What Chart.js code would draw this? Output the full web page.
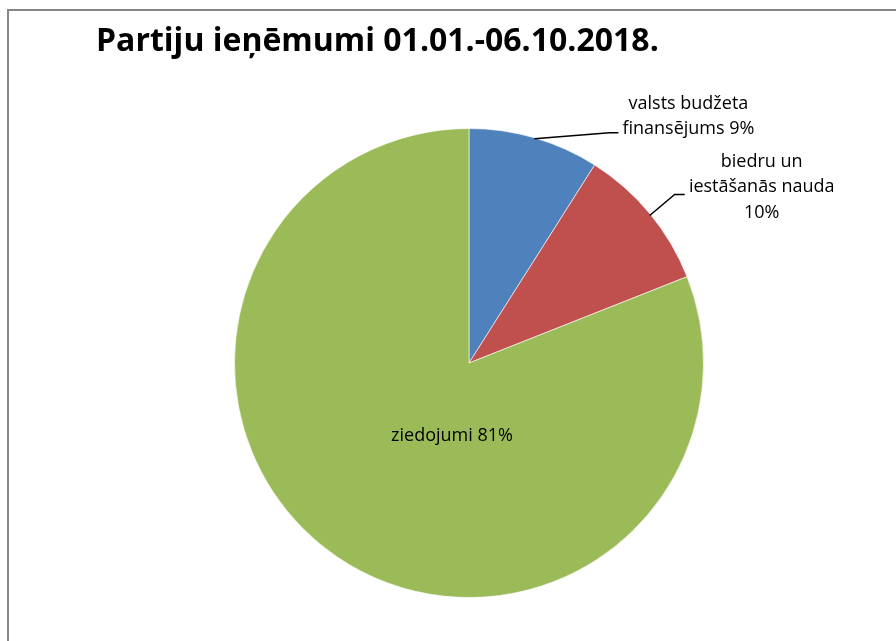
<!DOCTYPE html>
<html>
<head>
<meta charset="utf-8">
<script src="https://cdn.jsdelivr.net/npm/chart.js@4"></script>
<style>
  html, body { margin: 0; padding: 0; background: #fff; overflow: hidden; }
  #wrap { position: relative; width: 896px; height: 641px; }
  #frame { position: absolute; left: 7px; top: 9px; width: 1000px; height: 1000px; border: 2px solid #868686; box-sizing: border-box; }
  canvas { position: absolute; left: 0; top: 0; }
</style>
</head>
<body>
<div id="wrap">
  <div id="frame"></div>
  <canvas id="chart" width="896" height="641"></canvas>
</div>
<script>
const title = 'Partiju ieņēmumi 01.01.-06.10.2018.';
const labels = ['valsts budžeta finansējums', 'biedru un iestāšanās nauda', 'ziedojumi'];
const values = [9, 10, 81];
const colors = ['#4F81BD', '#C0504D', '#9BBB59'];

// how each label is written (line breaks)
const labelLines = [
  ['valsts budžeta', 'finansējums 9%'],
  ['biedru un', 'iestāšanās nauda', '10%'],
  ['ziedojumi 81%']
];
const labelFont = '18px "Open Sans", Lato, sans-serif';

const pieLabels = {
  id: 'pieLabels',
  afterDraw(chart) {
    const ctx = chart.ctx;
    const arcs = chart.getDatasetMeta(0).data;
    ctx.save();

    // title
    ctx.font = 'bold 32px "Open Sans", Lato, sans-serif';
    ctx.fillStyle = '#000';
    ctx.textAlign = 'left';
    ctx.textBaseline = 'alphabetic';
    ctx.fillText(title, 96, 51);

    ctx.font = labelFont;
    ctx.textAlign = 'center';
    ctx.textBaseline = 'middle';
    ctx.strokeStyle = '#000';
    ctx.lineWidth = 1.5;

    arcs.forEach((arc, i) => {
      const mid = (arc.startAngle + arc.endAngle) / 2;
      const ex = arc.x + Math.cos(mid) * arc.outerRadius;
      const ey = arc.y + Math.sin(mid) * arc.outerRadius;
      let tx, ty;
      if (i === 0) {
        ctx.beginPath();
        ctx.moveTo(ex, ey + 1);
        ctx.lineTo(ex + 75, ey - 5);
        ctx.lineTo(ex + 84, ey - 5);
        ctx.stroke();
        tx = ex + 154; ty = ey - 34;
      } else if (i === 1) {
        ctx.beginPath();
        ctx.moveTo(ex, ey + 2);
        ctx.lineTo(ex + 25, ey - 19);
        ctx.lineTo(ex + 35, ey - 19);
        ctx.stroke();
        tx = ex + 112; ty = ey - 52;
      } else {
        tx = arc.x - 17; ty = arc.y + 73;
      }
      const lh = 25.5;
      labelLines[i].forEach((t, k) => {
        ctx.fillStyle = '#000';
        ctx.fillText(t, tx, ty + k * lh);
      });
    });
    ctx.restore();
  }
};

new Chart(document.getElementById('chart'), {
  type: 'pie',
  data: {
    labels: labels,
    datasets: [{
      data: values,
      backgroundColor: colors,
      borderColor: 'rgba(255,255,255,0.6)',
      borderWidth: 1
    }]
  },
  options: {
    responsive: false,
    animation: false,
    layout: { padding: { left: 234, right: 192, top: 128, bottom: 43 } },
    plugins: {
      legend: { display: false },
      tooltip: { enabled: false },
      title: { display: false }
    }
  },
  plugins: [pieLabels]
});
</script>
</body>
</html>
